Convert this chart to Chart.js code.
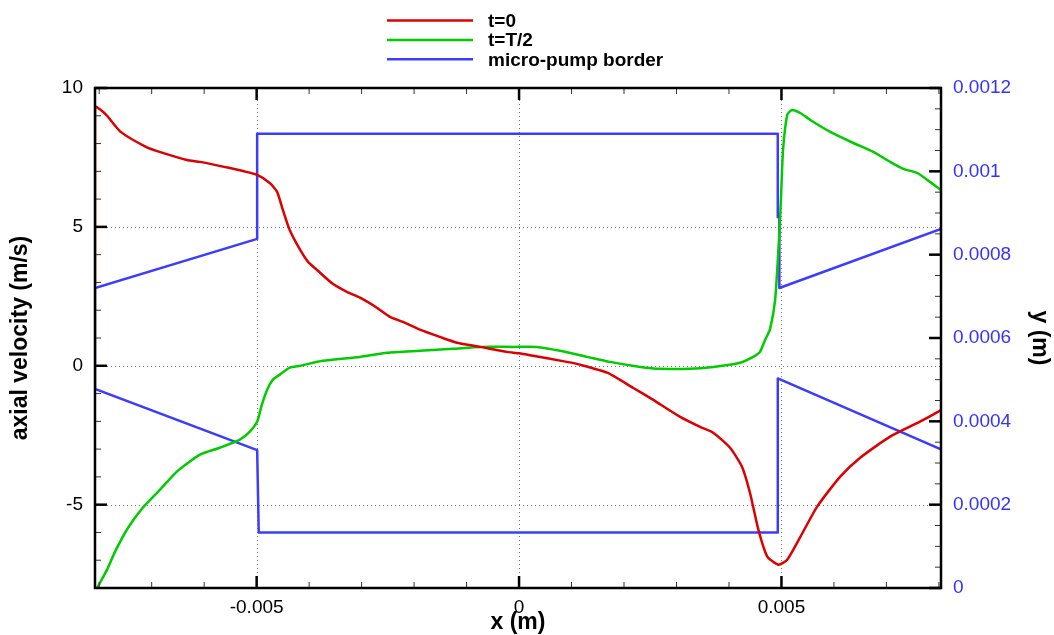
<!DOCTYPE html>
<html>
<head>
<meta charset="utf-8">
<script src="https://cdn.jsdelivr.net/npm/chart.js@4/dist/chart.umd.min.js"></script>
<style>
  body { margin: 0; background: #fff; }
  #wrap { width: 1054px; height: 635px; }
</style>
</head>
<body>
<div id="wrap"><canvas id="chart" width="1054" height="635"></canvas></div>
<script>
// t=0 curve (x in m, axial velocity in m/s)
const redX = [-0.00808, -0.00808, -0.00797, -0.00785, -0.00759, -0.00711, -0.00685, -0.00633, -0.00608, -0.00551,
  -0.00526, -0.00499, -0.00475, -0.00461, -0.00450, -0.00437, -0.00417, -0.00402, -0.00385, -0.00355,
  -0.00328, -0.00303, -0.00271, -0.00246, -0.00221, -0.00189, -0.00151, -0.00118, -0.00074, -0.00023,
  0, 0.00027, 0.00091, 0.00116, 0.00168, 0.00217, 0.00255, 0.00307, 0.00345, 0.00370,
  0.00402, 0.00425, 0.00440, 0.00456, 0.00473, 0.00494, 0.00511, 0.00536, 0.00568, 0.00612,
  0.00650, 0.00707, 0.00764, 0.00799, 0.00804];
const redY = [2.91, 9.32, 9.21, 9.00, 8.42, 7.88, 7.70, 7.41, 7.34, 7.12,
  7.01, 6.87, 6.58, 6.26, 5.61, 4.89, 4.17, 3.74, 3.45, 2.95,
  2.66, 2.45, 2.09, 1.76, 1.58, 1.30, 1.04, 0.83, 0.68, 0.50,
  0.45, 0.36, 0.14, 0.04, -0.25, -0.79, -1.22, -1.84, -2.20, -2.41,
  -2.95, -3.64, -4.57, -5.90, -6.87, -7.16, -6.98, -6.16, -5.07, -3.99,
  -3.31, -2.55, -2.01, -1.65, -1.58];

// t=T/2 curve
const greenX = [-0.00804, -0.00785, -0.00770, -0.00745, -0.00717, -0.00684, -0.00652, -0.00608, -0.00570, -0.00532,
  -0.00513, -0.00499, -0.00490, -0.00480, -0.00469, -0.00456, -0.00437, -0.00417, -0.00374, -0.00303,
  -0.00252, -0.00189, -0.00126, -0.00074, -0.00011, 0.00034, 0.00078, 0.00130, 0.00173, 0.00231,
  0.00269, 0.00326, 0.00370, 0.00421, 0.00446, 0.00459, 0.00469, 0.00478, 0.00488, 0.00496,
  0.00499, 0.00503, 0.00511, 0.00520, 0.00536, 0.00555, 0.00593, 0.00637, 0.00675, 0.00707,
  0.00732, 0.00759, 0.00783, 0.00804];
const greenY = [-8.0, -7.34, -6.70, -5.83, -5.11, -4.46, -3.81, -3.20, -2.95, -2.66,
  -2.37, -2.01, -1.40, -0.86, -0.50, -0.32, -0.07, 0.00, 0.18, 0.32,
  0.47, 0.54, 0.61, 0.68, 0.68, 0.68, 0.54, 0.32, 0.14, -0.04,
  -0.11, -0.11, -0.04, 0.11, 0.32, 0.50, 0.94, 1.30, 2.38, 4.79,
  5.98, 7.77, 9.03, 9.21, 9.10, 8.85, 8.42, 8.02, 7.70, 7.34,
  7.09, 6.94, 6.62, 6.33];

// micro-pump border (x in m, y in m on right axis)
const borderX = [0.00804, 0.00496, 0.00496, 0.00493, 0.00493, -0.00499, -0.00499, -0.00808, -0.00808,
  -0.00499, -0.00496, 0.00493, 0.00493, 0.00804];
const borderY = [0.000862, 0.00072, 0.00089, 0.00089, 0.00109, 0.00109, 0.000838, 0.00072, 0.000478,
  0.000331, 0.000133, 0.000133, 0.000503, 0.000333];

const xTicks = [-0.005, 0, 0.005];
const yTicks = [-5, 0, 5, 10];
const y1Ticks = [0, 0.0002, 0.0004, 0.0006, 0.0008, 0.001, 0.0012];
const xMinor = [-0.008, -0.007, -0.006, -0.004, -0.003, -0.002, -0.001, 0.001, 0.002, 0.003, 0.004, 0.006, 0.007, 0.008];
const yMinor = [-8, -7, -6, -4, -3, -2, -1, 1, 2, 3, 4, 6, 7, 8, 9];
const y1Minor = [0.00005, 0.0001, 0.00015, 0.00025, 0.0003, 0.00035, 0.00045, 0.0005, 0.00055,
  0.00065, 0.0007, 0.00075, 0.00085, 0.0009, 0.00095, 0.00105, 0.0011, 0.00115];

const FONT = "'Liberation Sans', Arial, sans-serif";
const zip = (xs, ys) => xs.map((x, i) => ({ x: x, y: ys[i] }));

// dotted grid at the major ticks
const gridPlugin = {
  id: 'grid',
  beforeDatasetsDraw(chart) {
    const { ctx, chartArea: a, scales } = chart;
    ctx.save();
    ctx.strokeStyle = '#777';
    ctx.lineWidth = 1;
    ctx.setLineDash([1, 3]);
    xTicks.forEach(v => {
      const px = Math.round(scales.x.getPixelForValue(v)) + 0.5;
      ctx.beginPath(); ctx.moveTo(px, a.top); ctx.lineTo(px, a.bottom); ctx.stroke();
    });
    yTicks.forEach(v => {
      const py = Math.round(scales.y.getPixelForValue(v)) + 0.5;
      if (py < a.top + 2) return;
      ctx.beginPath(); ctx.moveTo(a.left, py); ctx.lineTo(a.right, py); ctx.stroke();
    });
    ctx.restore();
  }
};

// frame plus inward ticks, then the legend
const framePlugin = {
  id: 'frame',
  afterDatasetsDraw(chart) {
    const { ctx, chartArea: a, scales } = chart;
    ctx.save();
    const tick = (x1, y1, x2, y2, w, c) => {
      ctx.strokeStyle = c; ctx.lineWidth = w;
      ctx.beginPath(); ctx.moveTo(x1, y1); ctx.lineTo(x2, y2); ctx.stroke();
    };
    xTicks.forEach(v => {
      const px = scales.x.getPixelForValue(v);
      tick(px, a.bottom, px, a.bottom - 12, 2.5, '#000');
      tick(px, a.top, px, a.top + 12, 2.5, '#000');
    });
    xMinor.forEach(v => {
      const px = scales.x.getPixelForValue(v);
      tick(px, a.bottom, px, a.bottom - 6, 1, '#333');
      tick(px, a.top, px, a.top + 6, 1, '#333');
    });
    yTicks.forEach(v => {
      const py = scales.y.getPixelForValue(v);
      tick(a.left, py, a.left + 12, py, 2.5, '#000');
    });
    yMinor.forEach(v => {
      const py = scales.y.getPixelForValue(v);
      tick(a.left, py, a.left + 6, py, 1, '#333');
    });
    y1Ticks.forEach(v => {
      const py = scales.y1.getPixelForValue(v);
      tick(a.right, py, a.right - 12, py, 2.5, '#000');
    });
    y1Minor.forEach(v => {
      const py = scales.y1.getPixelForValue(v);
      tick(a.right, py, a.right - 6, py, 1, '#333');
    });
    ctx.strokeStyle = '#000';
    ctx.lineWidth = 2.5;
    ctx.strokeRect(a.left, a.top, a.right - a.left, a.bottom - a.top);

    // legend
    ctx.font = 'bold 19px ' + FONT;
    ctx.textBaseline = 'middle';
    ctx.fillStyle = '#000';
    chart.data.datasets.forEach((ds, i) => {
      const y = 20.5 + i * 19.4;
      tick(387, y, 473, y, 2.5, ds.borderColor);
      ctx.fillText(ds.label, 488, y + 1);
    });
    ctx.restore();
  }
};

new Chart(document.getElementById('chart'), {
  type: 'line',
  data: {
    datasets: [
      { label: 't=0', data: zip(redX, redY), borderColor: '#dd0000', yAxisID: 'y', tension: 0.2 },
      { label: 't=T/2', data: zip(greenX, greenY), borderColor: '#00cc00', yAxisID: 'y', tension: 0.2 },
      { label: 'micro-pump border', data: zip(borderX, borderY), borderColor: '#3c3cff', yAxisID: 'y1', tension: 0 }
    ]
  },
  options: {
    responsive: false,
    animation: false,
    layout: { padding: { top: 88, left: 0, right: 0, bottom: 0 } },
    elements: {
      line: { borderWidth: 2.5, fill: false, borderJoinStyle: 'round' },
      point: { radius: 0 }
    },
    plugins: { legend: { display: false }, tooltip: { enabled: false } },
    scales: {
      x: {
        type: 'linear',
        min: -0.00808, max: 0.00804,
        afterBuildTicks: s => { s.ticks = xTicks.map(v => ({ value: v })); },
        afterFit: s => { s.height = 47; },
        grid: { display: false, drawTicks: false },
        border: { display: false },
        ticks: {
          color: '#000', padding: 8, maxRotation: 0,
          font: { family: FONT, size: 19 },
          callback: v => String(v)
        },
        title: { display: true, text: 'x (m)', color: '#000', padding: { top: 0, bottom: -1 },
          font: { family: FONT, size: 23, weight: 'bold' } }
      },
      y: {
        type: 'linear', position: 'left',
        min: -8, max: 10,
        afterBuildTicks: s => { s.ticks = yTicks.map(v => ({ value: v })); },
        afterFit: s => { s.width = 95; },
        grid: { display: false, drawTicks: false },
        border: { display: false },
        ticks: { color: '#000', padding: 12, font: { family: FONT, size: 19 } },
        title: { display: true, text: 'axial velocity (m/s)', color: '#000', padding: { top: 7, bottom: 0 },
          font: { family: FONT, size: 23, weight: 'bold' } }
      },
      y1: {
        type: 'linear', position: 'right',
        min: 0, max: 0.0012,
        afterBuildTicks: s => { s.ticks = y1Ticks.map(v => ({ value: v })); },
        afterFit: s => { s.width = 113; },
        grid: { display: false, drawTicks: false },
        border: { display: false },
        ticks: { color: '#3333ff', padding: 12, font: { family: FONT, size: 19 },
          callback: v => String(v) },
        title: { display: true, text: 'y (m)', color: '#000', padding: { top: 1, bottom: 0 },
          font: { family: FONT, size: 23, weight: 'bold' } }
      }
    }
  },
  plugins: [gridPlugin, framePlugin]
});
</script>
</body>
</html>
